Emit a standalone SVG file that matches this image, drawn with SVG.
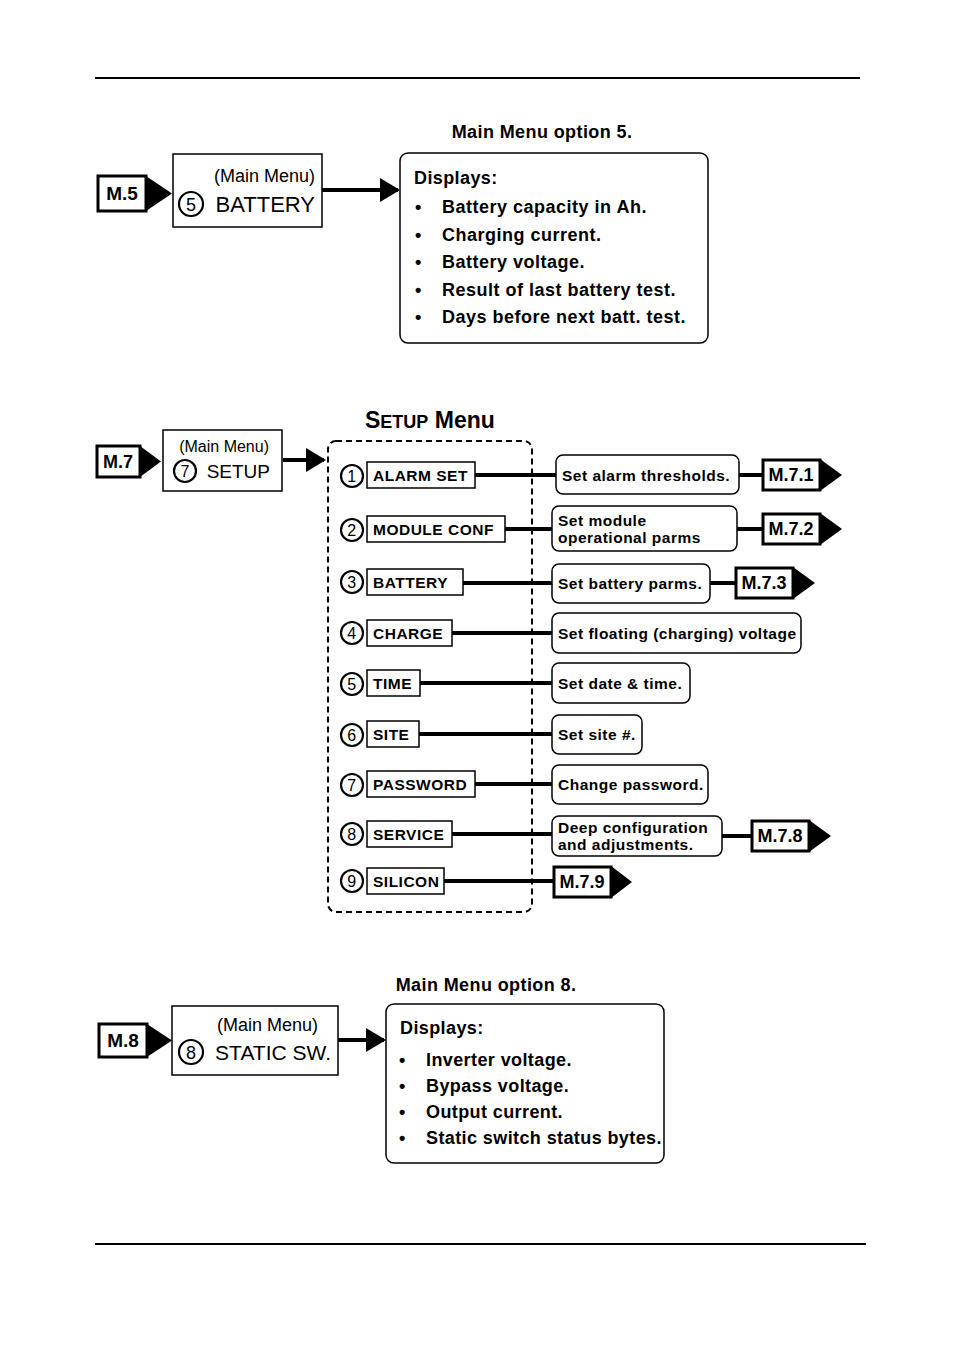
<svg xmlns="http://www.w3.org/2000/svg" width="954" height="1350" viewBox="0 0 954 1350">
<style>
text{font-family:"Liberation Sans",Arial,sans-serif;fill:#000}
.b{font-weight:bold}
.box{fill:#fff;stroke:#000;stroke-width:1.5}
.tag{fill:#fff;stroke:#000;stroke-width:3}
.rb{fill:#fff;stroke:#000;stroke-width:1.5}
.ln{stroke:#000;stroke-width:4;fill:none}
.c{fill:none;stroke:#000;stroke-width:2.2}
</style>
<defs>
<marker id="ah" markerWidth="5" markerHeight="6" refX="4.5" refY="3" orient="auto" markerUnits="strokeWidth"><path d="M0,0L5,3L0,6z" fill="#000"/></marker>
</defs>
<rect width="954" height="1350" fill="#fff"/>
<line x1="95" y1="78" x2="860" y2="78" stroke="#000" stroke-width="2"/>
<line x1="95" y1="1244" x2="866" y2="1244" stroke="#000" stroke-width="2"/>

<g id="connectors">
<line class="ln" x1="322" y1="190" x2="398" y2="190" marker-end="url(#ah)"/>
<line class="ln" x1="283" y1="460" x2="324" y2="460" marker-end="url(#ah)"/>
<line class="ln" x1="338" y1="1040" x2="384" y2="1040" marker-end="url(#ah)"/>
<line class="ln" x1="475" y1="475" x2="556" y2="475"/><line class="ln" x1="739" y1="475" x2="762" y2="475"/>
<line class="ln" x1="505" y1="529" x2="552" y2="529"/><line class="ln" x1="737" y1="529" x2="762" y2="529"/>
<line class="ln" x1="463" y1="583" x2="552" y2="583"/><line class="ln" x1="710" y1="583" x2="735" y2="583"/>
<line class="ln" x1="452" y1="633" x2="552" y2="633"/>
<line class="ln" x1="420" y1="683" x2="552" y2="683"/>
<line class="ln" x1="419" y1="734" x2="552" y2="734"/>
<line class="ln" x1="475" y1="784" x2="552" y2="784"/>
<line class="ln" x1="452" y1="834" x2="552" y2="834"/><line class="ln" x1="722" y1="836" x2="751" y2="836"/>
<line class="ln" x1="444" y1="881" x2="553" y2="881"/>
</g>

<g id="m5">
<text x="542" y="138" font-size="18" letter-spacing="0.4" text-anchor="middle" class="b">Main Menu option 5.</text>
<g id="tag-m5"><rect class="tag" x="98" y="176" width="48" height="35"/><path d="M146,176L172,193.5L146,211z"/><text x="122" y="200" font-size="19" text-anchor="middle" class="b">M.5</text></g>
<g id="battery-node"><rect class="box" x="173" y="154" width="149" height="73"/>
<text x="315" y="182" font-size="18" text-anchor="end">(Main Menu)</text>
<circle class="c" cx="191" cy="204" r="12"/><text x="191" y="211" font-size="18" text-anchor="middle">5</text>
<text x="315" y="212" font-size="22" text-anchor="end">BATTERY</text></g>
<g id="displays5"><rect class="rb" x="400" y="153" width="308" height="190" rx="8"/>
<text x="414" y="184" font-size="18" letter-spacing="0.4" class="b">Displays:</text>
<g font-size="18" letter-spacing="0.5" class="b">
<text x="415" y="213">•</text><text x="442" y="213">Battery capacity in Ah.</text>
<text x="415" y="241">•</text><text x="442" y="241">Charging current.</text>
<text x="415" y="268">•</text><text x="442" y="268">Battery voltage.</text>
<text x="415" y="296">•</text><text x="442" y="296">Result of last battery test.</text>
<text x="415" y="323">•</text><text x="442" y="323">Days before next batt. test.</text>
</g></g>
</g>

<g id="m7">
<text x="365" y="428" font-size="23" class="b">S<tspan font-size="18">ETUP</tspan> Menu</text>
<g id="tag-m7"><rect class="tag" x="97" y="446" width="43" height="31"/><path d="M140,446L161,461.5L140,477z"/><text x="118" y="468" font-size="18" text-anchor="middle" class="b">M.7</text></g>
<g id="setup-node"><rect class="box" x="163" y="430" width="119" height="61"/>
<text x="269" y="452" font-size="16" text-anchor="end">(Main Menu)</text>
<circle class="c" cx="185" cy="471" r="11"/><text x="185" y="477" font-size="16" text-anchor="middle">7</text>
<text x="270" y="478" font-size="19" text-anchor="end">SETUP</text></g>
<rect x="328" y="441" width="204" height="471" rx="8" fill="none" stroke="#000" stroke-width="2" stroke-dasharray="6,4"/>

<g font-size="15.5" letter-spacing="0.5" class="b">
<g id="r1"><circle class="c" cx="352" cy="476" r="11"/><text x="352" y="482" text-anchor="middle" font-weight="normal" font-size="16">1</text><rect class="box" x="367" y="462" width="108" height="26"/><text x="373" y="481">ALARM SET</text></g>
<g id="r2"><circle class="c" cx="352" cy="530" r="11"/><text x="352" y="536" text-anchor="middle" font-weight="normal" font-size="16">2</text><rect class="box" x="367" y="516" width="138" height="26"/><text x="373" y="535">MODULE CONF</text></g>
<g id="r3"><circle class="c" cx="352" cy="582" r="11"/><text x="352" y="588" text-anchor="middle" font-weight="normal" font-size="16">3</text><rect class="box" x="367" y="569" width="96" height="26"/><text x="373" y="588">BATTERY</text></g>
<g id="r4"><circle class="c" cx="352" cy="633" r="11"/><text x="352" y="639" text-anchor="middle" font-weight="normal" font-size="16">4</text><rect class="box" x="367" y="620" width="85" height="26"/><text x="373" y="639">CHARGE</text></g>
<g id="r5"><circle class="c" cx="352" cy="684" r="11"/><text x="352" y="690" text-anchor="middle" font-weight="normal" font-size="16">5</text><rect class="box" x="367" y="670" width="53" height="26"/><text x="373" y="689">TIME</text></g>
<g id="r6"><circle class="c" cx="352" cy="735" r="11"/><text x="352" y="741" text-anchor="middle" font-weight="normal" font-size="16">6</text><rect class="box" x="367" y="721" width="52" height="26"/><text x="373" y="740">SITE</text></g>
<g id="r7"><circle class="c" cx="352" cy="785" r="11"/><text x="352" y="791" text-anchor="middle" font-weight="normal" font-size="16">7</text><rect class="box" x="367" y="771" width="108" height="26"/><text x="373" y="790">PASSWORD</text></g>
<g id="r8"><circle class="c" cx="352" cy="834" r="11"/><text x="352" y="840" text-anchor="middle" font-weight="normal" font-size="16">8</text><rect class="box" x="367" y="821" width="85" height="26"/><text x="373" y="840">SERVICE</text></g>
<g id="r9"><circle class="c" cx="352" cy="881" r="11"/><text x="352" y="887" text-anchor="middle" font-weight="normal" font-size="16">9</text><rect class="box" x="367" y="868" width="77" height="26"/><text x="373" y="887">SILICON</text></g>

<g id="d1"><rect class="rb" x="556" y="455" width="183" height="39" rx="7"/><text x="562" y="481">Set alarm thresholds.</text></g>
<g id="d2"><rect class="rb" x="552" y="506" width="185" height="45" rx="7"/><text x="558" y="526">Set module</text><text x="558" y="543">operational parms</text></g>
<g id="d3"><rect class="rb" x="552" y="564" width="158" height="39" rx="7"/><text x="558" y="589">Set battery parms.</text></g>
<g id="d4"><rect class="rb" x="552" y="613" width="249" height="40" rx="7"/><text x="558" y="639">Set floating (charging) voltage</text></g>
<g id="d5"><rect class="rb" x="552" y="663" width="138" height="40" rx="7"/><text x="558" y="689">Set date &amp; time.</text></g>
<g id="d6"><rect class="rb" x="552" y="715" width="90" height="39" rx="7"/><text x="558" y="740">Set site #.</text></g>
<g id="d7"><rect class="rb" x="552" y="765" width="156" height="39" rx="7"/><text x="558" y="790">Change password.</text></g>
<g id="d8"><rect class="rb" x="552" y="816" width="170" height="40" rx="7"/><text x="558" y="833">Deep configuration</text><text x="558" y="850">and adjustments.</text></g>
</g>
<g font-size="18" class="b" text-anchor="middle">
<g id="t71"><rect class="tag" x="763" y="460" width="57" height="30"/><path d="M820,459L842,475L820,491z"/><text x="791" y="481">M.7.1</text></g>
<g id="t72"><rect class="tag" x="763" y="514" width="57" height="30"/><path d="M820,513L842,529L820,545z"/><text x="791" y="535">M.7.2</text></g>
<g id="t73"><rect class="tag" x="736" y="568" width="57" height="30"/><path d="M793,567L815,583L793,599z"/><text x="764" y="589">M.7.3</text></g>
<g id="t78"><rect class="tag" x="752" y="821" width="57" height="30"/><path d="M809,820L831,836L809,852z"/><text x="780" y="842">M.7.8</text></g>
<g id="t79"><rect class="tag" x="554" y="867" width="57" height="30"/><path d="M611,866L632,882L611,898z"/><text x="582" y="888">M.7.9</text></g>
</g>
</g>

<g id="m8">
<text x="486" y="991" font-size="18" letter-spacing="0.4" text-anchor="middle" class="b">Main Menu option 8.</text>
<g id="tag-m8"><rect class="tag" x="99" y="1024" width="48" height="33"/><path d="M147,1024L172,1040.5L147,1057z"/><text x="123" y="1047" font-size="19" text-anchor="middle" class="b">M.8</text></g>
<g id="static-node"><rect class="box" x="172" y="1006" width="166" height="69"/>
<text x="318" y="1031" font-size="18" text-anchor="end">(Main Menu)</text>
<circle class="c" cx="191" cy="1052" r="12"/><text x="191" y="1059" font-size="18" text-anchor="middle">8</text>
<text x="331" y="1060" font-size="21" text-anchor="end">STATIC SW.</text></g>
<g id="displays8"><rect class="rb" x="386" y="1004" width="278" height="159" rx="8"/>
<g font-size="18" letter-spacing="0.4" class="b">
<text x="400" y="1034">Displays:</text>
<text x="399" y="1066">•</text><text x="426" y="1066">Inverter voltage.</text>
<text x="399" y="1092">•</text><text x="426" y="1092">Bypass voltage.</text>
<text x="399" y="1118">•</text><text x="426" y="1118">Output current.</text>
<text x="399" y="1144">•</text><text x="426" y="1144">Static switch status bytes.</text>
</g></g>
</g>
</svg>
